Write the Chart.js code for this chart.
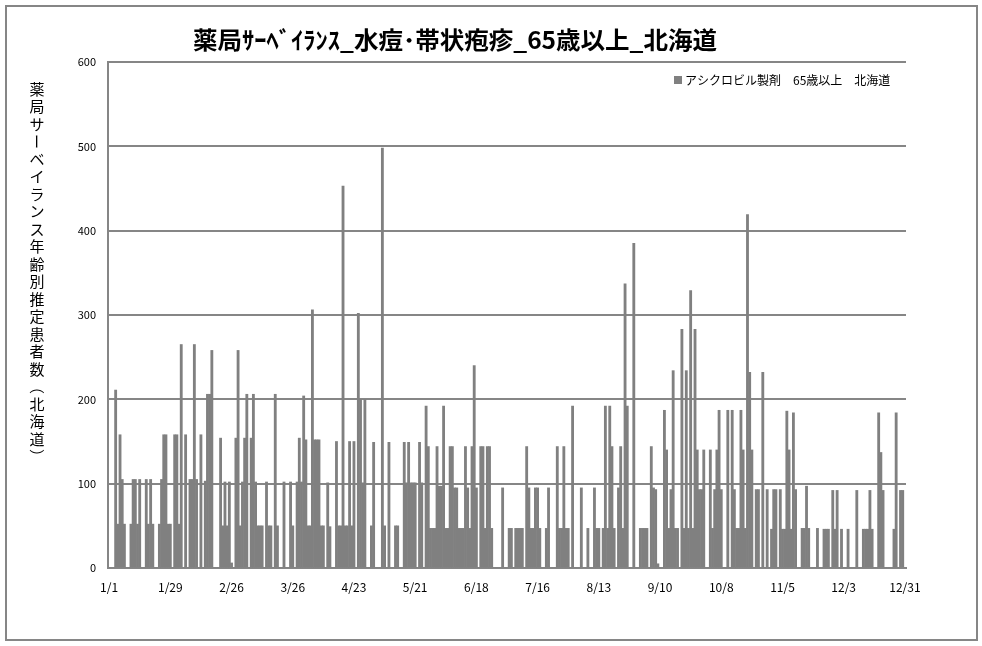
<!DOCTYPE html>
<html>
<head>
<meta charset="utf-8">
<script src="https://cdn.jsdelivr.net/npm/chart.js@4.4.0/dist/chart.umd.min.js"></script>
<style>
  html, body { margin: 0; padding: 0; background: #fff; }
  #wrap { width: 982px; height: 646px; }
</style>
</head>
<body>
<div id="wrap"><canvas id="canvas1" width="982" height="646"></canvas></div>
<script>
// chart texts
let chartTitle = '薬局ｻｰﾍﾞｲﾗﾝｽ_水痘･帯状疱疹_65歳以上_北海道';
let yTitle = '薬局サーベイランス年齢別推定患者数（北海道）';
let seriesName = 'アシクロビル製剤　65歳以上　北海道';

// labels shown under the x axis (every 28 days)
let tickLabels = ['1/1', '1/29', '2/26', '3/26', '4/23', '5/21', '6/18',
                  '7/16', '8/13', '9/10', '10/8', '11/5', '12/3', '12/31'];

// daily estimated patients (one row = 28 days)
let values = [
  0,0,0,211,52,158,105,52,0,0,52,105,105,52,105,0,0,105,52,105,52,0,0,52,105,158,158,52,
  52,0,158,158,52,265,0,158,0,105,105,265,105,0,158,0,103,206,206,258,0,0,0,154,50,102,50,102,
  6,0,154,258,50,102,154,206,0,154,206,102,50,50,50,0,102,50,50,0,206,50,0,0,102,0,0,102,
  50,0,102,154,102,204,152,50,50,306,152,152,152,50,50,0,101,49,0,0,150,50,50,453,50,50,150,50,
  150,0,302,200,101,200,0,0,50,149,0,0,0,498,50,0,149,0,0,50,50,0,0,149,101,149,101,101,
  101,0,149,101,0,192,144,47,47,47,144,97,97,192,47,47,144,144,95,95,47,47,47,144,95,47,144,240,
  95,0,144,144,47,144,144,47,0,0,0,0,95,0,0,47,47,0,47,47,47,47,0,144,95,47,47,95,
  95,47,0,0,47,95,0,0,0,144,47,47,144,47,47,0,192,0,0,0,95,0,0,47,0,0,95,47,
  47,0,47,192,47,192,144,47,0,95,144,47,337,192,0,0,385,0,0,47,47,47,47,0,144,95,93,5,
  0,0,187,140,47,93,234,47,47,0,283,47,234,47,329,47,283,140,93,93,140,0,0,140,47,93,140,187,
  93,0,0,187,0,187,93,47,47,187,140,47,419,232,140,0,93,93,0,232,0,93,0,46,93,93,0,93,
  46,46,186,140,46,184,93,0,0,47,47,97,47,0,0,0,47,0,0,46,46,46,0,92,46,92,0,46,
  0,0,46,0,0,0,92,0,0,46,46,46,92,46,0,0,184,137,92,0,0,0,0,46,184,0,92,92,
  0
];

// one category per day of the year
let days = [];
for (let i = 0; i < values.length; i++) {
  let d = new Date(2014, 0, 1 + i);
  days.push((d.getMonth() + 1) + '/' + d.getDate());
}

let gray = '#868686';
let jp = '"Noto Sans CJK JP", "Noto Sans", sans-serif';

// title, vertical axis title, legend and frame drawn around the chart
let decor = {
  id: 'decor',
  beforeDraw: function(chart) {
    let ctx = chart.ctx;
    ctx.save();
    ctx.fillStyle = '#fff';
    ctx.fillRect(0, 0, chart.width, chart.height);
    ctx.restore();
  },
  afterDraw: function(chart) {
    let ctx = chart.ctx;
    ctx.save();

    // outer frame
    ctx.strokeStyle = gray;
    ctx.lineWidth = 2;
    ctx.strokeRect(6, 6, 971, 634);

    // title, squeezed to the width it has in the picture
    ctx.fillStyle = '#000';
    ctx.font = 'bold 24px ' + jp;
    ctx.textBaseline = 'middle';
    ctx.textAlign = 'center';
    let w = ctx.measureText(chartTitle).width;
    ctx.save();
    ctx.translate(455, 40);
    ctx.scale(524 / w, 1);
    ctx.fillText(chartTitle, 0, 0);
    ctx.restore();

    // y title, one character under the other
    ctx.font = '15px ' + jp;
    let chars = Array.from(yTitle);
    for (let i = 0; i < chars.length; i++) {
      let c = chars[i];
      let y = 89 + i * 17.5;
      if (c == 'ー' || c == '（' || c == '）') {
        ctx.save();
        ctx.translate(37, y);
        ctx.rotate(Math.PI / 2);
        ctx.fillText(c, 0, 0);
        ctx.restore();
      } else {
        ctx.fillText(c, 37, y);
      }
    }

    // legend inside the plot
    ctx.fillStyle = '#808080';
    ctx.fillRect(674, 76, 8, 8);
    ctx.fillStyle = '#000';
    ctx.font = '12px ' + jp;
    ctx.textAlign = 'left';
    ctx.fillText(seriesName, 685, 80);

    ctx.restore();
  }
};

let options = {
  type: 'bar',
  data: {
    labels: days,
    datasets: [{
      label: seriesName,
      data: values,
      backgroundColor: '#808080',
      borderWidth: 0,
      barPercentage: 1.0,
      categoryPercentage: 1.0
    }]
  },
  options: {
    responsive: false,
    animation: false,
    layout: {
      padding: { left: 0, right: 76, top: 62, bottom: 38 }
    },
    plugins: {
      legend: { display: false },
      title: { display: false },
      tooltip: { enabled: false }
    },
    scales: {
      x: {
        grid: { display: false, drawTicks: false },
        border: { display: true, color: gray, width: 2 },
        ticks: {
          autoSkip: false,
          maxRotation: 0,
          minRotation: 0,
          padding: 12,
          color: '#000',
          font: { size: 12, family: jp },
          callback: function(val) {
            let lab = this.getLabelForValue(val);
            return tickLabels.includes(lab) ? lab : '';
          }
        },
        afterFit: function(scale) { scale.height = 40; }
      },
      y: {
        min: 0,
        max: 600,
        grid: { color: gray, lineWidth: 2, drawTicks: false },
        border: { display: true, color: gray, width: 2 },
        ticks: {
          stepSize: 100,
          padding: 12,
          color: '#000',
          font: { size: 11, family: jp }
        },
        afterFit: function(scale) { scale.width = 108; }
      }
    }
  },
  plugins: [decor]
};

let chart = new Chart(document.getElementById('canvas1'), options);
</script>
</body>
</html>
